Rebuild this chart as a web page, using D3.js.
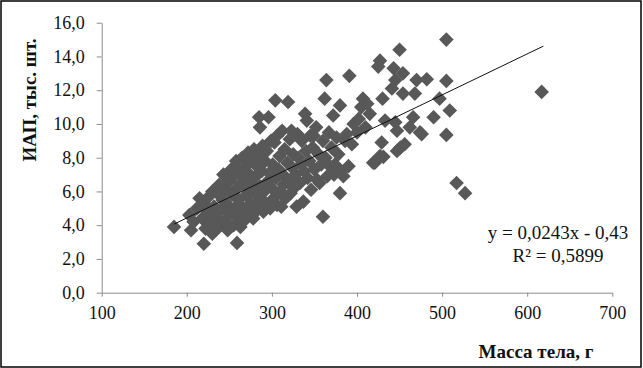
<!DOCTYPE html>
<html><head><meta charset="utf-8">
<script src="https://cdn.jsdelivr.net/npm/d3@7"></script>
<style>
html,body{margin:0;padding:0;background:#fff;}
svg{display:block;}
text{font-family:"Liberation Serif","Times New Roman",serif;}
</style></head>
<body>
<svg id="c" width="643" height="368"></svg>
<script>
const xTicks = [100,200,300,400,500,600,700];
const yTicks = [0,2,4,6,8,10,12,14,16];
const mass = [185,203,205,208,212,215,218,220,220,222,224,226,228,230,230,232,234,236,238,238,240,242,243,244,246,248,248,250,250,252,253,255,255,256,258,259,259,260,261,262,263,264,265,266,267,268,269,270,271,272,273,274,275,276,277,278,279,280,281,282,283,284,285,286,286,287,288,289,290,291,292,293,294,295,296,297,298,299,300,301,302,303,304,305,306,306,308,309,310,311,312,313,314,315,316,318,319,320,321,322,323,324,325,326,328,329,330,331,333,334,335,337,338,339,340,341,342,344,345,346,348,349,350,352,353,355,356,358,360,360,362,363,364,365,367,368,370,372,373,374,376,378,380,380,382,384,386,388,390,391,394,396,400,402,405,407,410,412,415,419,421,425,427,427,429,430,431,433,441,443,445,445,447,447,450,451,454,454,456,462,466,468,470,474,476,482,490,497,505,505,505,509,517,527,617];
const iap = [3.9,4.6,3.7,4.2,5.0,5.6,4.4,2.9,5.3,3.8,4.8,5.7,4.2,3.5,6.0,5.1,4.5,5.9,3.9,6.4,4.9,5.5,7.0,4.2,6.1,3.7,5.2,6.6,4.6,7.3,5.8,4.0,6.9,5.0,7.8,2.95,6.2,4.5,5.5,7.2,3.9,6.5,8.0,5.0,6.8,4.3,7.5,5.8,6.2,8.3,4.8,7.0,5.3,6.5,7.9,4.4,8.5,5.9,6.9,7.5,4.9,8.2,10.4,9.8,6.3,5.5,7.2,8.7,4.8,6.0,7.8,5.3,8.4,6.6,10.4,7.1,5.0,9.0,6.2,7.6,5.6,8.9,11.4,6.8,9.3,5.2,7.3,8.1,6.0,5.1,9.6,7.0,6.4,8.5,5.6,7.7,11.3,6.6,9.1,5.9,9.6,7.4,8.2,6.2,7.0,5.1,9.4,8.0,6.5,7.6,9.0,5.4,7.2,10.6,8.4,10.2,6.8,7.8,9.3,6.1,8.6,9.3,7.3,9.8,6.7,8.2,6.5,7.6,4.5,9.0,11.5,8.0,12.6,6.9,9.5,7.5,8.6,10.5,7.0,7.6,9.2,8.2,5.9,11.1,7.2,6.9,9.0,9.4,7.5,12.85,8.8,10.0,9.5,10.3,11.0,11.5,9.8,11.2,10.6,7.7,7.7,13.4,13.75,8.1,8.9,11.5,8.05,10.2,12.1,13.3,12.6,10.1,9.6,8.4,14.4,8.6,13.0,11.8,8.8,9.8,10.4,11.8,12.6,9.5,9.4,12.65,10.4,11.5,15.0,12.55,9.35,10.8,6.5,5.9,11.9];
const trendSlope = 0.0243, trendIntercept = -0.43, trendRange = [185, 619];
const eqLines = ["y = 0,0243x - 0,43", "R² = 0,5899"];

const svg = d3.select("#c");
const x = d3.scaleLinear().domain([100,700]).range([101.7,612.3]);
const y = d3.scaleLinear().domain([0,16]).range([292.7,22.7]);
const fmt = d => d.toFixed(1).replace(".", ",");

// frame
svg.append("rect").attr("x",1).attr("y",1).attr("width",640).attr("height",366)
  .attr("fill","none").attr("stroke","#000").attr("stroke-width",1.5);

// axes
const gx = svg.append("g").attr("transform",`translate(0,${y(0)})`)
  .call(d3.axisBottom(x).tickValues(xTicks).tickSize(4).tickSizeOuter(0).tickPadding(6));
const gy = svg.append("g").attr("transform",`translate(${x(100)},0)`)
  .call(d3.axisLeft(y).tickValues(yTicks).tickFormat(fmt).tickSize(5).tickSizeOuter(0).tickPadding(12));
[gx,gy].forEach(g=>{
  g.select(".domain").attr("stroke","#8c8c8c").attr("stroke-width",1);
  g.selectAll(".tick line").attr("stroke","#8c8c8c");
  g.selectAll("text").attr("fill","#111").style("font-size","18px").style("font-family",'"Liberation Serif",serif');
});
gx.selectAll("text").attr("dy","0.9em");

// points
const pts = mass.map((m,i)=>({m, v: iap[i]}));
const r = 7.3;
svg.append("g").selectAll("path").data(pts).join("path")
  .attr("d", d => { const cx = x(d.m), cy = y(d.v);
    return `M${cx},${cy-r}L${cx+r},${cy}L${cx},${cy+r}L${cx-r},${cy}Z`; })
  .attr("fill","#585858");

// trend line
svg.append("line")
  .attr("x1", x(trendRange[0])).attr("y1", y(trendSlope*trendRange[0]+trendIntercept))
  .attr("x2", x(trendRange[1])).attr("y2", y(trendSlope*trendRange[1]+trendIntercept))
  .attr("stroke","#111").attr("stroke-width",1);

// equation
svg.append("text").attr("x",558).attr("y",239).attr("text-anchor","middle")
  .style("font-size","19px").attr("fill","#111").text(eqLines[0]);
svg.append("text").attr("x",558).attr("y",262).attr("text-anchor","middle")
  .style("font-size","19px").attr("fill","#111").text(eqLines[1]);

// axis titles
svg.append("text").attr("transform","translate(36,100) rotate(-90)").attr("text-anchor","middle")
  .style("font-size","19px").style("font-weight","bold").attr("fill","#111").text("ИАП, тыс. шт.");
svg.append("text").attr("x",536).attr("y",358).attr("text-anchor","middle")
  .style("font-size","19px").style("font-weight","bold").attr("fill","#111").text("Масса тела, г");
</script>
</body></html>
